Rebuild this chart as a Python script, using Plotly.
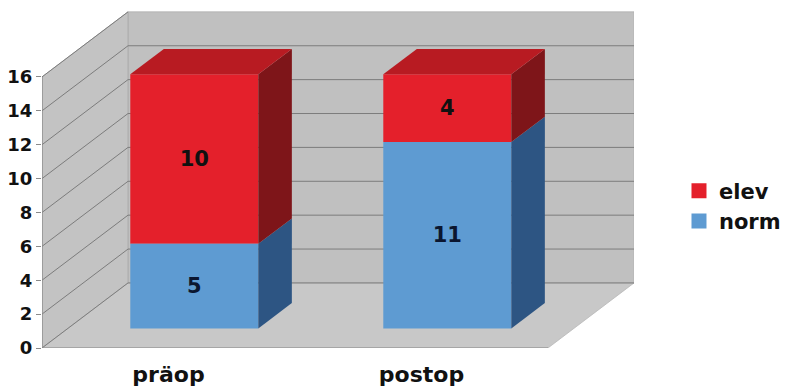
import plotly.graph_objects as go

# Data
categories = ["präop", "postop"]
norm = [5, 11]
elev = [10, 4]
y_ticks = list(range(0, 17, 2))
y_max = 16

# Colours
RED_FRONT, RED_TOP, RED_SIDE = "#e4202b", "#b81b22", "#7e1519"
BLUE_FRONT, BLUE_SIDE = "#5e9bd2", "#2d5583"
WALL, SIDE_WALL, FLOOR = "#c0c0c0", "#c3c3c3", "#c8c8c8"
GRID = "#7c7c7c"

# Oblique projection: depth offset of the back wall in axis units
DX, DY = 0.34, 3.84
# Bars occupy this fraction range of the depth
F1, F2 = 0.30, 0.69
HALF = 0.253

sx, sy = F1 * DX, F1 * DY
bdx, bdy = (F2 - F1) * DX, (F2 - F1) * DY
n_cat = len(categories)
centers = [i + 0.5 for i in range(n_cat)]
xpos = [c + sx for c in centers]

FONT = "DejaVu Sans"

fig = go.Figure()

# Front faces of the stacked columns
fig.add_trace(go.Bar(
    name="elev", x=xpos, y=elev, base=[sy + n for n in norm], width=2 * HALF,
    marker=dict(color=RED_FRONT, line=dict(width=0)),
    text=[str(v) for v in elev], textposition="inside", insidetextanchor="middle",
    textfont=dict(family=FONT, size=21, color="#111111", weight="bold"),
    hoverinfo="skip", showlegend=False,
))
fig.add_trace(go.Bar(
    name="norm", x=xpos, y=norm, base=[sy] * n_cat, width=2 * HALF,
    marker=dict(color=BLUE_FRONT, line=dict(width=0)),
    text=[str(v) for v in norm], textposition="inside", insidetextanchor="middle",
    textfont=dict(family=FONT, size=21, color="#0b1630", weight="bold"),
    hoverinfo="skip", showlegend=False,
))

# Legend entries with square swatches
for name, col in [("elev", RED_FRONT), ("norm", BLUE_FRONT)]:
    fig.add_trace(go.Scatter(
        x=[None], y=[None], mode="markers", name=name,
        marker=dict(symbol="square", size=15, color=col),
        hoverinfo="skip",
    ))


def face(xs, ys, color):
    fig.add_trace(go.Scatter(
        x=xs + [xs[0]], y=ys + [ys[0]], mode="lines", fill="toself",
        fillcolor=color, line=dict(width=0, color=color),
        hoverinfo="skip", showlegend=False,
    ))


# Side and top faces of the columns
for i in range(n_cat):
    left, right = xpos[i] - HALF, xpos[i] + HALF
    segs = [(sy, sy + norm[i], BLUE_SIDE), (sy + norm[i], sy + norm[i] + elev[i], RED_SIDE)]
    for b, t, col in segs:
        face([right, right + bdx, right + bdx, right], [b, b + bdy, t + bdy, t], col)
    top = sy + norm[i] + elev[i]
    face([left, right, right + bdx, left + bdx], [top, top, top + bdy, top + bdy], RED_TOP)

# Walls, floor and gridlines
shapes = []
x_end = float(n_cat)


def poly(pts, fill, line_color=GRID, lw=0.8):
    path = "M " + " L ".join(f"{x},{y}" for x, y in pts) + " Z"
    shapes.append(dict(type="path", path=path, xref="x", yref="y", layer="below",
                       fillcolor=fill, line=dict(color=line_color, width=lw)))


def seg(x0, y0, x1, y1, color=GRID, lw=1):
    shapes.append(dict(type="line", x0=x0, y0=y0, x1=x1, y1=y1, xref="x", yref="y",
                       layer="below", line=dict(color=color, width=lw)))


poly([(DX, DY), (x_end + DX, DY), (x_end + DX, y_max + DY), (DX, y_max + DY)], WALL, "#b0b0b0")
poly([(0, 0), (0, y_max), (DX, y_max + DY), (DX, DY)], SIDE_WALL, "#a8a8a8")
poly([(0, 0), (x_end, 0), (x_end + DX, DY), (DX, DY)], FLOOR, "#b8b8b8")

for v in y_ticks:
    seg(0, v, DX, v + DY)
    if 0 < v < y_max:
        seg(DX, v + DY, x_end + DX, v + DY)
seg(DX, DY, x_end + DX, DY)
seg(0, 0, x_end, 0, "#8a8a8a", 1.2)
seg(0, 0, 0, y_max, "#8a8a8a", 1.2)

fig.update_layout(
    width=786, height=392,
    margin=dict(l=42, r=152, t=10, b=44, autoexpand=False),
    paper_bgcolor="white", plot_bgcolor="white",
    barmode="overlay",
    shapes=shapes,
    font=dict(family=FONT, color="#111111", weight="bold"),
    showlegend=True,
    legend=dict(
        x=1.076, y=0.42, xanchor="left", yanchor="middle",
        font=dict(family=FONT, size=21, color="#111111", weight="bold"),
        bgcolor="rgba(0,0,0,0)", traceorder="normal", itemwidth=30,
    ),
    xaxis=dict(
        range=[0, x_end + DX], tickvals=centers, ticktext=categories,
        ticks="outside", ticklen=7, tickcolor="rgba(0,0,0,0)",
        tickfont=dict(family=FONT, size=22, color="#111111", weight="bold"),
        showgrid=False, zeroline=False, showline=False, fixedrange=True,
        automargin=False,
    ),
    yaxis=dict(
        range=[0, 19.95], tickvals=y_ticks,
        ticks="outside", ticklen=5, tickcolor="#8a8a8a",
        tickfont=dict(family=FONT, size=18, color="#111111", weight="bold"),
        showgrid=False, zeroline=False, showline=False, fixedrange=True,
        automargin=False,
    ),
)

fig.write_html("out.html")
